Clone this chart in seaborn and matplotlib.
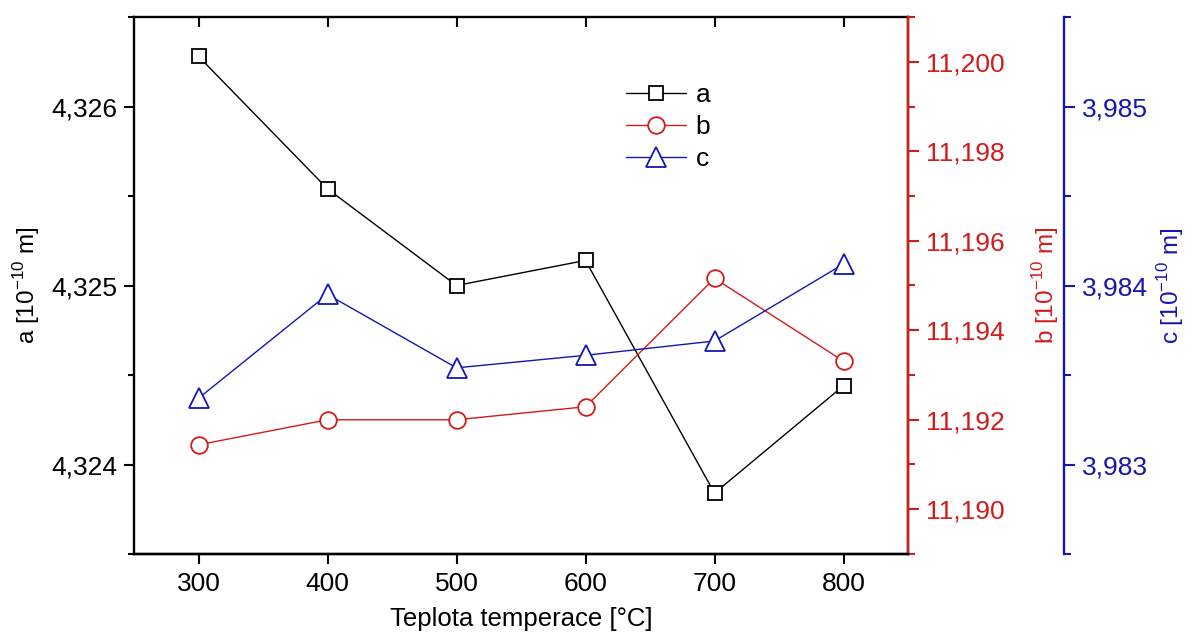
import matplotlib
matplotlib.use("Agg")
import matplotlib.pyplot as plt
import seaborn as sns
import pandas as pd
from matplotlib.ticker import MultipleLocator, FuncFormatter

# ---- data ----
temperature = [300, 400, 500, 600, 700, 800]
a_values = [4.32628, 4.32554, 4.32500, 4.32514, 4.32384, 4.32444]
b_values = [11.19144, 11.19200, 11.19200, 11.19229, 11.19516, 11.19331]
c_values = [3.98337, 3.98395, 3.98354, 3.98361, 3.98369, 3.98412]

x_label = "Teplota temperace [°C]"
a_label = r"a [10$^{\mathregular{-10}}$ m]"
b_label = r"b [10$^{\mathregular{-10}}$ m]"
c_label = r"c [10$^{\mathregular{-10}}$ m]"

RED = "#d21c1c"
BLUE = "#1616b0"

sns.set_theme(style="ticks")
plt.rcParams["font.family"] = ["Liberation Sans", "DejaVu Sans"]
plt.rcParams["mathtext.fontset"] = "custom"
plt.rcParams["mathtext.rm"] = "Liberation Sans"
plt.rcParams["axes.linewidth"] = 1.7
plt.rcParams["axes.edgecolor"] = "black"
plt.rcParams["text.color"] = "black"
plt.rcParams["axes.labelcolor"] = "black"
plt.rcParams["xtick.color"] = "black"
plt.rcParams["ytick.color"] = "black"

df = pd.DataFrame({"T": temperature, "a": a_values, "b": b_values, "c": c_values})

W, H = 1192, 641
fig = plt.figure(figsize=(W / 100, H / 100), dpi=100)
L, R, T, B = 134, 908, 14, 551
ax = fig.add_axes([L / W, (H - B) / H, (R - L) / W, (B - T) / H])
ax2 = ax.twinx()
ax3 = ax.twinx()
# third axis layer slightly shifted down (as in reference)
ax3.set_position([L / W, (H - B - 3) / H, (R - L) / W, (B - T) / H])

fs = 19
lfs = 17.5
comma = FuncFormatter(lambda v, p: f"{v:.3f}".replace(".", ","))

sns.lineplot(data=df, x="T", y="a", ax=ax, color="black", marker="s", mec="black", label="a", legend=False,
             lw=1.0, ms=10, mew=1.3, mfc="white")
sns.lineplot(data=df, x="T", y="b", ax=ax2, color=RED, marker="o", mec=RED, label="b", legend=False,
             lw=1.0, ms=12, mew=1.3, mfc="white")
sns.lineplot(data=df, x="T", y="c", ax=ax3, color=BLUE, marker="^", mec=BLUE, label="c", legend=False,
             lw=1.0, ms=14, mew=1.3, mfc="white")

ax.set_xlim(250, 850)
ax.set_ylim(4.3235, 4.3265)
ax2.set_ylim(11.189, 11.201)
ax3.set_ylim(3.9825, 3.9855)

# left axis
ax.yaxis.set_major_locator(MultipleLocator(0.001))
ax.yaxis.set_minor_locator(MultipleLocator(0.0005))
ax.yaxis.set_major_formatter(comma)
ax.tick_params(axis="y", which="major", length=7, width=1.5, labelsize=fs, pad=5, colors="black")
ax.tick_params(axis="y", which="minor", length=4, width=1.5, colors="black")
ax.set_ylabel(a_label, fontsize=lfs, labelpad=7)

# x axis
ax.xaxis.set_major_locator(MultipleLocator(100))
ax.tick_params(axis="x", which="major", length=7, width=1.5, labelsize=fs, pad=6,
               top=True, direction="out", colors="black")
ax.set_xlabel(x_label, fontsize=18.5, labelpad=8)
# top ticks inward
for t in ax.xaxis.get_major_ticks():
    t.tick2line.set_marker(3)  # TICKDOWN
    t.tick2line.set_markersize(7)
    t.tick2line.set_markeredgewidth(1.5)

# red axis
ax2.spines["right"].set_color(RED)
ax2.yaxis.set_major_locator(MultipleLocator(0.002))
ax2.yaxis.set_minor_locator(MultipleLocator(0.001))
ax2.yaxis.set_major_formatter(comma)
ax2.tick_params(axis="y", which="major", length=8, width=1.5, labelsize=fs, pad=5, colors=RED)
ax2.tick_params(axis="y", which="minor", length=5, width=1.5, colors=RED)
ax2.set_ylabel(b_label, fontsize=lfs, color=RED, labelpad=18)

# blue axis
ax3.spines["right"].set_position(("axes", (1064 - L) / (R - L)))
ax3.spines["right"].set_color(BLUE)
for s in ["left", "top", "bottom"]:
    ax3.spines[s].set_visible(False)
ax3.patch.set_visible(False)
ax3.yaxis.set_major_locator(MultipleLocator(0.001))
ax3.yaxis.set_minor_locator(MultipleLocator(0.0005))
ax3.yaxis.set_major_formatter(comma)
ax3.tick_params(axis="y", which="major", length=8, width=1.5, labelsize=fs, pad=5, colors=BLUE)
ax3.tick_params(axis="y", which="minor", length=5, width=1.5, colors=BLUE)
ax3.set_ylabel(c_label, fontsize=lfs, color=BLUE, labelpad=5)

for s in ["top", "right", "left"]:
    ax2.spines[s].set_visible(s == "right")

handles = ax.get_lines()[:1] + ax2.get_lines()[:1] + ax3.get_lines()[:1]
leg = ax3.legend(handles, ["a", "b", "c"], loc="center", bbox_to_anchor=(0.69, 0.795),
                 frameon=False, fontsize=fs, handlelength=2.3, labelspacing=0.3,
                 handletextpad=0.35)

fig.savefig("out.png", dpi=100)
